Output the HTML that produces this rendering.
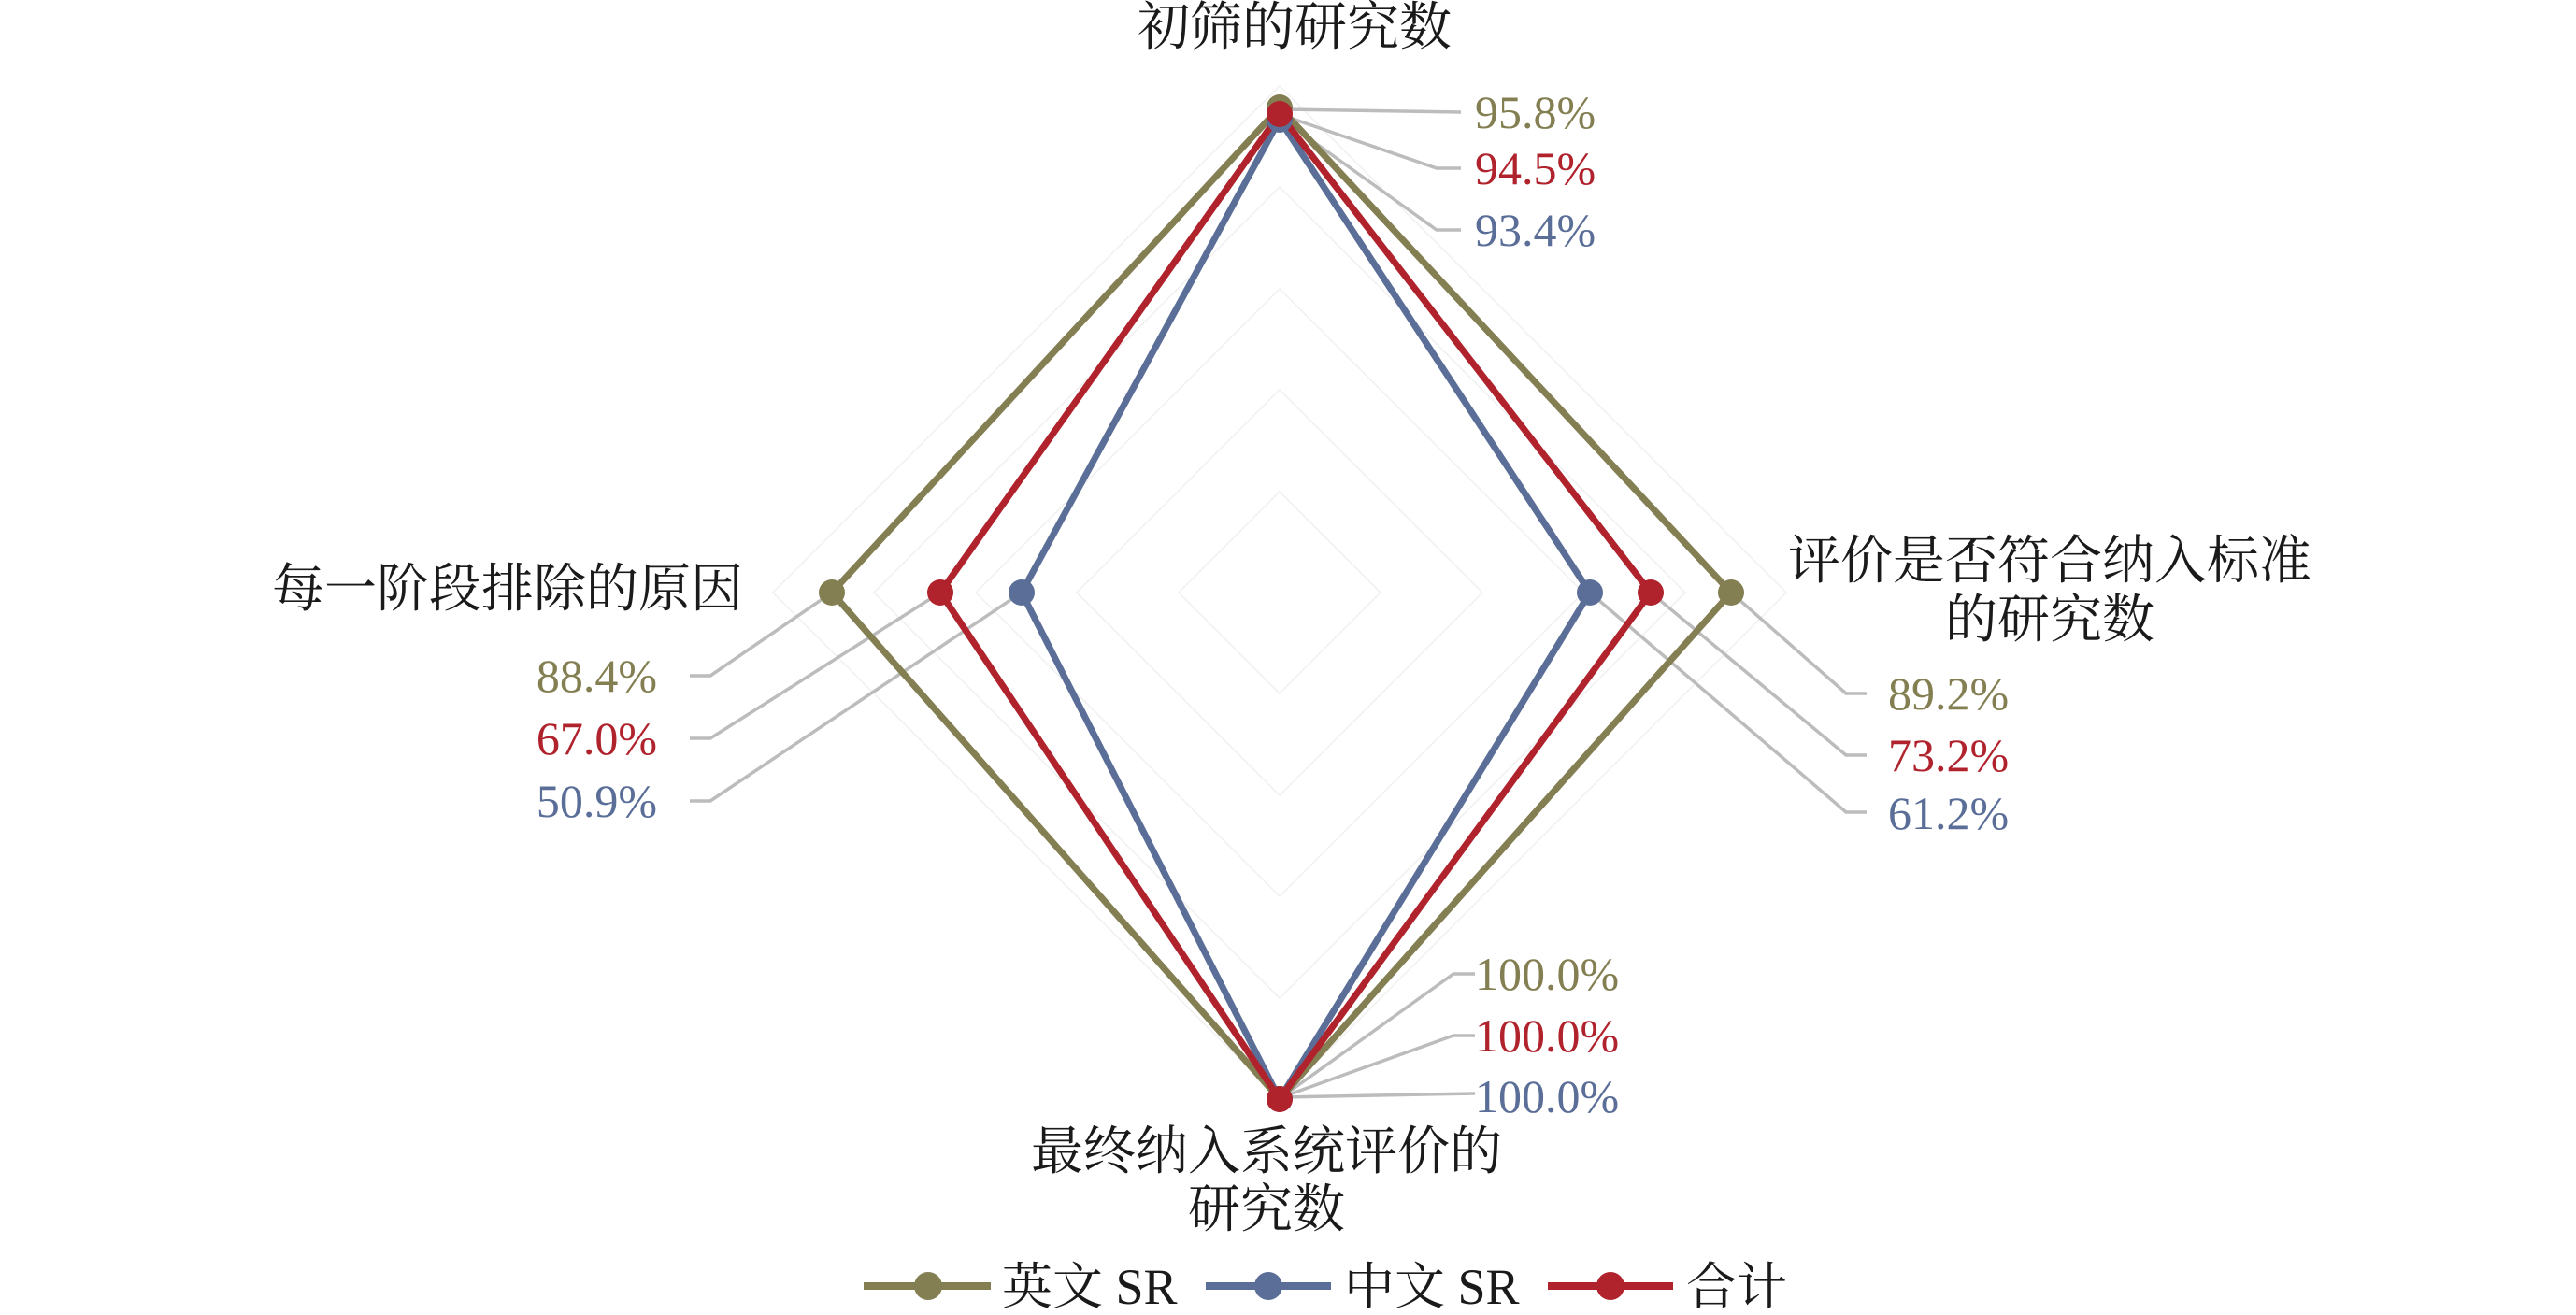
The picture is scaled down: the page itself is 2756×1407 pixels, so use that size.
<!DOCTYPE html>
<html><head><meta charset="utf-8"><style>
html,body{margin:0;padding:0;background:#fff;}
svg{display:block;}
text{font-family:"Liberation Serif","Noto Serif CJK SC",serif;}
</style></head><body>
<svg width="2756" height="1407" viewBox="0 0 2756 1407" xmlns="http://www.w3.org/2000/svg">
<g fill="none" stroke="#f0f0f0" stroke-width="1.5">
<polygon points="1369,92 1911,634 1369,1176 827,634"/>
<polygon points="1369,200 1803,634 1369,1068 935,634"/>
<polygon points="1369,309 1694,634 1369,959 1044,634"/>
<polygon points="1369,417 1586,634 1369,851 1152,634"/>
<polygon points="1369,526 1477,634 1369,742 1261,634"/>
</g>
<g fill="none" stroke="#bcbcbc" stroke-width="3.5">
<polyline points="1371,117 1563,120"/>
<polyline points="1371,123 1537,180 1563,180"/>
<polyline points="1371,127 1537,246 1563,246"/>
<polyline points="1852,634 1975,742 1997,742"/>
<polyline points="1766,634 1975,808 1997,808"/>
<polyline points="1701,634 1975,869 1997,869"/>
<polyline points="890,634 760,723 738,723"/>
<polyline points="1006,634 760,790 738,790"/>
<polyline points="1093,634 760,857 738,857"/>
<polyline points="1371,1174 1555,1042 1578,1042"/>
<polyline points="1371,1174 1555,1108 1578,1108"/>
<polyline points="1371,1174 1578,1170"/>
</g>
<g fill="none" stroke-width="7" stroke-linejoin="miter">
<polygon points="1369,115 1852,634 1369,1176 890,634" stroke="#837f52"/>
<polygon points="1369,128 1701,634 1369,1176 1093,634" stroke="#5a6e98"/>
<polygon points="1369,122 1766,634 1369,1176 1006,634" stroke="#b0222c"/>
</g>
<g>
<circle cx="1369" cy="115" r="14" fill="#837f52"/>
<circle cx="1852" cy="634" r="14" fill="#837f52"/>
<circle cx="890" cy="634" r="14" fill="#837f52"/>
<circle cx="1369" cy="128" r="14" fill="#5a6e98"/>
<circle cx="1701" cy="634" r="14" fill="#5a6e98"/>
<circle cx="1093" cy="634" r="14" fill="#5a6e98"/>
<circle cx="1369" cy="1176" r="14" fill="#5a6e98"/>
<circle cx="1369" cy="122" r="14" fill="#b0222c"/>
<circle cx="1766" cy="634" r="14" fill="#b0222c"/>
<circle cx="1006" cy="634" r="14" fill="#b0222c"/>
<circle cx="1369" cy="1176" r="14" fill="#b0222c"/>
</g>
<g font-size="50">
<text x="1578" y="137" fill="#837f52">95.8%</text>
<text x="1578" y="197" fill="#b0222c">94.5%</text>
<text x="1578" y="263" fill="#5a6e98">93.4%</text>
<text x="2020" y="759" fill="#837f52">89.2%</text>
<text x="2020" y="825" fill="#b0222c">73.2%</text>
<text x="2020" y="887" fill="#5a6e98">61.2%</text>
<text x="703" y="740" fill="#837f52" text-anchor="end">88.4%</text>
<text x="703" y="807" fill="#b0222c" text-anchor="end">67.0%</text>
<text x="703" y="874" fill="#5a6e98" text-anchor="end">50.9%</text>
<text x="1578" y="1059" fill="#837f52">100.0%</text>
<text x="1578" y="1125" fill="#b0222c">100.0%</text>
<text x="1578" y="1190" fill="#5a6e98">100.0%</text>
</g>
<g font-size="56" fill="#1a1a1a">
<text x="1385" y="48" text-anchor="middle">初筛的研究数</text>
<text x="2193" y="619" text-anchor="middle">评价是否符合纳入标准</text>
<text x="2193" y="682" text-anchor="middle">的研究数</text>
<text x="795" y="649" text-anchor="end">每一阶段排除的原因</text>
<text x="1355" y="1251" text-anchor="middle">最终纳入系统评价的</text>
<text x="1355" y="1313" text-anchor="middle">研究数</text>
</g>
<g>
<line x1="924" y1="1376" x2="1060" y2="1376" stroke="#837f52" stroke-width="8"/>
<circle cx="993" cy="1376" r="15" fill="#837f52"/>
<line x1="1290" y1="1376" x2="1424" y2="1376" stroke="#5a6e98" stroke-width="8"/>
<circle cx="1357" cy="1376" r="15" fill="#5a6e98"/>
<line x1="1656" y1="1376" x2="1790" y2="1376" stroke="#b0222c" stroke-width="8"/>
<circle cx="1723" cy="1376" r="15" fill="#b0222c"/>
</g>
<g font-size="54" fill="#1a1a1a">
<text x="1072" y="1395">英文 SR</text>
<text x="1438" y="1395">中文 SR</text>
<text x="1804" y="1395">合计</text>
</g>
</svg>
</body></html>
